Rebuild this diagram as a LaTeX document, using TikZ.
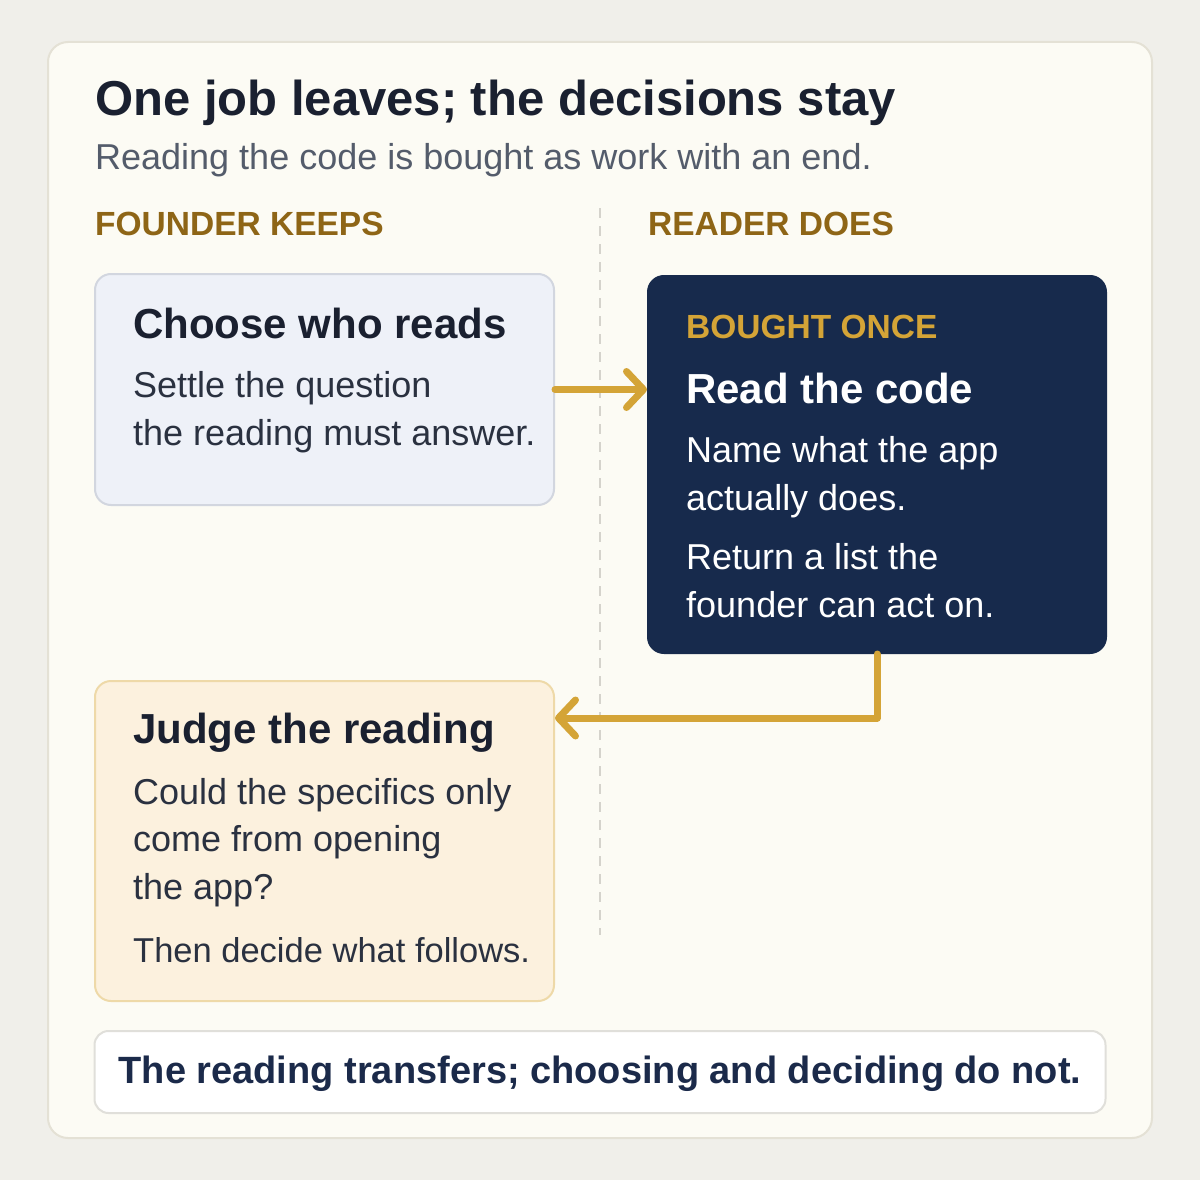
\documentclass[tikz,border=0pt]{standalone}
\usepackage{fontspec}
\setmainfont{Liberation Sans}
\usepackage{xcolor}
\usetikzlibrary{positioning}
\usetikzlibrary{arrows.meta}

\definecolor{pagebg}{HTML}{F0EFEA}
\definecolor{cardbg}{HTML}{FCFBF4}
\definecolor{cardline}{HTML}{E4E1D5}
\definecolor{inkdark}{HTML}{1A2030}
\definecolor{inkbody}{HTML}{2A3140}
\definecolor{inkgrey}{HTML}{545C6B}
\definecolor{labelbrown}{HTML}{8E6516}
\definecolor{ruleline}{HTML}{D5D3CC}
\definecolor{bluebg}{HTML}{EEF1F8}
\definecolor{blueline}{HTML}{D2D6DF}
\definecolor{navy}{HTML}{172A4C}
\definecolor{gold}{HTML}{D4A437}
\definecolor{creambg}{HTML}{FCF1DE}
\definecolor{creamline}{HTML}{EED9A8}
\definecolor{noteline}{HTML}{E0DFDA}
\definecolor{noteink}{HTML}{1B2A4A}

\tikzset{
	panel/.style={rounded corners=16pt, line width=2pt, inner sep=0pt, anchor=north west},
	txt/.style={inner sep=0pt, anchor=base west, align=left},
	heading/.style={txt, font=\bfseries\fontsize{42}{50}\selectfont},
	body/.style={txt, font=\fontsize{36}{47.5}\selectfont},
	caps/.style={txt, font=\bfseries\fontsize{33.5}{40}\selectfont},
	link/.style={draw=gold, line width=7pt, line cap=round, line join=round,
		-{Straight Barb[length=17pt, width=36pt, line cap=round, line join=round]}},
}

\begin{document}
\begin{tikzpicture}[x=1pt, y=-1pt]
		\useasboundingbox[fill=pagebg] (0,0) rectangle (1200,1180);
		\draw[fill=cardbg, draw=cardline, line width=2pt, rounded corners=20pt] (48,42) rectangle (1152,1138);
		
		% heading
		\node[txt, text=inkdark, font=\bfseries\fontsize{49}{59}\selectfont] (title) at (95,116) {One job leaves; the decisions stay};
		\node[txt, text=inkgrey, font=\fontsize{36}{44}\selectfont] (subtitle) at (95,170) {Reading the code is bought as work with an end.};
		
		\node[caps, text=labelbrown] (keeps) at (95,235) {FOUNDER KEEPS};
		\node[caps, text=labelbrown] (does) at (648,235) {READER DOES};
		
		\coordinate (divtop) at (600,208);
		\coordinate (divbot) at (600,935);
		\draw[ruleline, line width=2.2pt, dash pattern=on 10pt off 8pt] (divtop) -- (divbot);
		
		% founder side (multi-line texts sit on their last line)
		\node[panel, draw=blueline, fill=bluebg, minimum width=459pt, minimum height=231pt] (choose) at (94,273) {};
		\node[heading, text=inkdark] (choosehead) at (133,338) {Choose who reads};
		\node[body, text=inkbody] (choosebody) at (133,445) {Settle the question\\the reading must answer.};
		
		\node[panel, draw=creamline, fill=creambg, minimum width=459pt, minimum height=320pt] (judge) at (94,680) {};
		\node[heading, text=inkdark] (judgehead) at (133,743) {Judge the reading};
		\node[body, text=inkbody] (judgebody) at (133,899) {Could the specifics only\\come from opening\\the app?};
		\node[body, text=inkbody, font=\fontsize{34.5}{46}\selectfont] (judgenext) at (133,962) {Then decide what follows.};
		
		% reader side
		\node[panel, draw=navy, fill=navy, minimum width=458pt, minimum height=377pt] (read) at (647,275) {};
		\node[caps, text=gold] (once) at (686,338) {BOUGHT ONCE};
		\node[heading, text=white] (readhead) at (686,403) {Read the code};
		\node[body, text=white] (readbody) at (686,510) {Name what the app\\actually does.};
		\node[body, text=white] (readlist) at (686,617) {Return a list the\\founder can act on.};
		
		% connectors
		\draw[link] (choose.east) -- (choose.east -| read.west);
		\coordinate (turn) at (877,718);
		\draw[link] (read.south -| turn) -- (turn) -- (turn -| judge.east);
		
		% footer note
		\node[panel, anchor=north, draw=noteline, fill=white, rounded corners=14pt, minimum width=1011pt, minimum height=82pt] (note) at (600,1030) {};
		\node[txt, anchor=base, text=noteink, font=\bfseries\fontsize{38}{46}\selectfont] (notetext) at (600,1083) {The reading transfers; choosing and deciding do not.};
\end{tikzpicture}
\end{document}
